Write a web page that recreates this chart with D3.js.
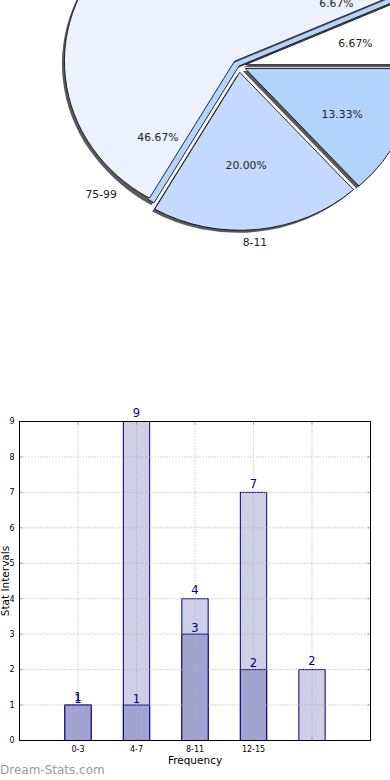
<!DOCTYPE html>
<html><head><meta charset="utf-8">
<script src="https://cdn.jsdelivr.net/npm/d3@7"></script>
<style>html,body{margin:0;padding:0;background:#fff;} svg{display:block;font-family:"DejaVu Sans",sans-serif;}</style>
</head><body>
<svg id="chart" width="390" height="780"></svg>
<script>
// ---------- Pie data ----------
const pieCategories = ["0-3", "4-7", "16-19", "75-99", "8-11", "12-15"];
const pieValues = [1, 1, 1, 7, 3, 2];
const pieColors = ["#ffffff", "#ebf1ff", "#ebf1ff", "#ebf1ff", "#c5d9ff", "#b3d4ff"];

// ---------- Bar data ----------
const barCategories = ["0-3", "4-7", "8-11", "12-15", ""];
const lightValues = [1, 9, 4, 7, 2];
const darkValues = [1, 1, 3, 2, 0];
const yTickValues = [0, 1, 2, 3, 4, 5, 6, 7, 8, 9];

const W = 390, H = 780;
const svg = d3.select("#chart");
const defs = svg.append("defs");
defs.append("filter").attr("id", "blur").attr("x", "-10%").attr("y", "-10%").attr("width", "120%").attr("height", "120%")
  .append("feGaussianBlur").attr("stdDeviation", 0.7);

// ===================== PIE =====================
const cx = 239, cy = 66, rx = 170, ry = 158;
const explode = 0.04, pctDist = 0.66, labelDist = 1.15;
const shadowDx = -2.5, shadowDy = 2.5;
const labelAngleOverride = { "75-99": 227 }; // degrees, math convention

const total = d3.sum(pieValues);
const pie = d3.pie().sort(null).value(d => d)
  .startAngle(Math.PI / 2).endAngle(Math.PI / 2 - 2 * Math.PI);
const slices = pie(pieValues).map((a, i) => ({
  ...a, cat: pieCategories[i], color: pieColors[i], pct: a.value / total * 100
}));

// merge consecutive wedges with the same colour into one drawn shape
const groups = [];
slices.forEach(s => {
  const g = groups[groups.length - 1];
  if (g && g.color === s.color) { g.endAngle = s.endAngle; g.value += s.value; }
  else groups.push({ startAngle: s.startAngle, endAngle: s.endAngle, color: s.color, value: s.value });
});
groups.forEach(g => {
  const mid = (g.startAngle + g.endAngle) / 2;
  g.ox = Math.sin(mid) * explode * rx;
  g.oy = -Math.cos(mid) * explode * ry;
});

const arc = d3.arc().innerRadius(0).outerRadius(rx);
const sy = ry / rx;
const pieG = svg.append("g");
function drawShape(g, dx, dy, fill, stroke, extra) {
  const p = pieG.append("path")
    .attr("d", arc({ startAngle: g.startAngle, endAngle: g.endAngle }))
    .attr("transform", `translate(${cx + dx},${cy + dy}) scale(1,${sy})`)
    .attr("fill", fill)
    .attr("vector-effect", "non-scaling-stroke");
  if (stroke) p.attr("stroke", stroke).attr("stroke-width", 0.9).attr("stroke-linejoin", "miter");
  if (extra) extra(p);
  return p;
}
const biggest = groups.reduce((a, b) => (b.value > a.value ? b : a));
// depth layer of the largest wedge
drawShape(biggest, shadowDx, shadowDy, "#5a5a5a", null, p => p.attr("filter", "url(#blur)"));
drawShape(biggest, 0, 0, pieColors[pieColors.length - 1], "#111");
// shadows
groups.forEach(g => drawShape(g, g.ox + shadowDx, g.oy + shadowDy, "#5a5a5a", null, p => p.attr("filter", "url(#blur)")));
// wedges
groups.forEach(g => drawShape(g, g.ox, g.oy, g.color, "#111"));

// labels
function groupOf(s) {
  return groups.find(g => s.startAngle <= g.startAngle + 1e-9 && s.startAngle >= g.endAngle - 1e-9) || groups[0];
}
slices.forEach(s => {
  const g = groupOf(s);
  let a = (s.startAngle + s.endAngle) / 2;
  if (labelAngleOverride[s.cat] !== undefined) a = Math.PI / 2 - labelAngleOverride[s.cat] * Math.PI / 180;
  const px = cx + g.ox + Math.sin(a) * pctDist * rx;
  const py = cy + g.oy - Math.cos(a) * pctDist * ry;
  const lx = cx + g.ox + Math.sin(a) * labelDist * rx;
  const ly = cy + g.oy - Math.cos(a) * labelDist * ry;
  if (px > 0 && px < W && py > 0 && py < H)
    pieG.append("text").attr("x", px).attr("y", py).attr("dy", "0.35em")
      .attr("text-anchor", "middle").attr("font-size", 10.8).attr("fill", "#222")
      .text(s.pct.toFixed(2) + "%");
  if (lx > 0 && lx < W && ly > 0 && ly < H)
    pieG.append("text").attr("x", lx).attr("y", ly).attr("dy", "0.35em")
      .attr("text-anchor", "middle").attr("font-size", 10.8).attr("fill", "#222")
      .text(s.cat);
});

// ===================== BARS =====================
const L = 19.5, R = 370.5, T = 421.5, B = 740.5;
const x = d3.scaleLinear().domain([0, barCategories.length + 1]).range([L, R]);
const y = d3.scaleLinear().domain([0, 9]).range([B, T]);
const bw = 0.45;
const barG = svg.append("g");
const navy = "#000080";

// bars
barG.selectAll("rect.light").data(lightValues).join("rect")
  .attr("x", (d, i) => x(i + 1 - bw / 2)).attr("width", x(bw) - x(0))
  .attr("y", d => y(d)).attr("height", d => y(0) - y(d))
  .attr("fill", "#cfcfe6").attr("stroke", navy).attr("stroke-width", 1);
barG.selectAll("rect.dark").data(darkValues).join("rect")
  .filter(d => d > 0)
  .attr("x", (d, i) => x(i + 1 - bw / 2)).attr("width", x(bw) - x(0))
  .attr("y", d => y(d)).attr("height", d => y(0) - y(d))
  .attr("fill", "#a3a3d0").attr("stroke", navy).attr("stroke-width", 1);

// grid
const grid = barG.append("g").attr("stroke", "#b0b0b0").attr("stroke-dasharray", "1,2").attr("stroke-width", 1);
yTickValues.forEach(v => grid.append("line").attr("x1", L).attr("x2", R).attr("y1", y(v)).attr("y2", y(v)));
barCategories.forEach((c, i) => grid.append("line").attr("x1", x(i + 1)).attr("x2", x(i + 1)).attr("y1", T).attr("y2", B));

// tick marks (inside, all sides)
const ticks = barG.append("g").attr("stroke", "#999").attr("stroke-width", 1);
yTickValues.forEach(v => {
  ticks.append("line").attr("x1", L).attr("x2", L + 3).attr("y1", y(v)).attr("y2", y(v));
  ticks.append("line").attr("x1", R - 3).attr("x2", R).attr("y1", y(v)).attr("y2", y(v));
});
barCategories.forEach((c, i) => {
  ticks.append("line").attr("x1", x(i + 1)).attr("x2", x(i + 1)).attr("y1", B - 3).attr("y2", B);
  ticks.append("line").attr("x1", x(i + 1)).attr("x2", x(i + 1)).attr("y1", T).attr("y2", T + 3);
});

// frame
barG.append("rect").attr("x", L).attr("y", T).attr("width", R - L).attr("height", B - T)
  .attr("fill", "none").attr("stroke", "#000").attr("stroke-width", 1);

// value labels
barG.selectAll("text.lv").data(lightValues).join("text")
  .attr("x", (d, i) => x(i + 1)).attr("y", d => y(d) - 4.5)
  .attr("text-anchor", "middle").attr("font-size", 11.5).attr("fill", navy).text(d => d);
barG.selectAll("text.dv").data(darkValues).join("text")
  .filter(d => d > 0)
  .attr("x", (d, i) => x(i + 1)).attr("y", d => y(d) - 2.5)
  .attr("text-anchor", "middle").attr("font-size", 11.5).attr("fill", navy).text(d => d);

// tick labels
barG.selectAll("text.yt").data(yTickValues).join("text")
  .attr("x", L - 5).attr("y", d => y(d)).attr("dy", "0.35em")
  .attr("text-anchor", "end").attr("font-size", 8).attr("fill", "#000").text(d => d);
barG.selectAll("text.xt").data(barCategories).join("text")
  .attr("x", (d, i) => x(i + 1)).attr("y", B + 11)
  .attr("text-anchor", "middle").attr("font-size", 8).attr("fill", "#000").text(d => d);

// axis titles
svg.append("text").attr("x", (L + R) / 2).attr("y", 764).attr("text-anchor", "middle")
  .attr("font-size", 10.5).attr("fill", "#000").text("Frequency");
svg.append("text").attr("transform", `translate(9,${(T + B) / 2}) rotate(-90)`)
  .attr("text-anchor", "middle").attr("font-size", 10.5).attr("fill", "#000").text("Stat Intervals");

// watermark
svg.append("text").attr("x", 0).attr("y", 774).attr("font-size", 12).attr("fill", "#9a9a9a")
  .text("Dream-Stats.com");
</script>
</body></html>
